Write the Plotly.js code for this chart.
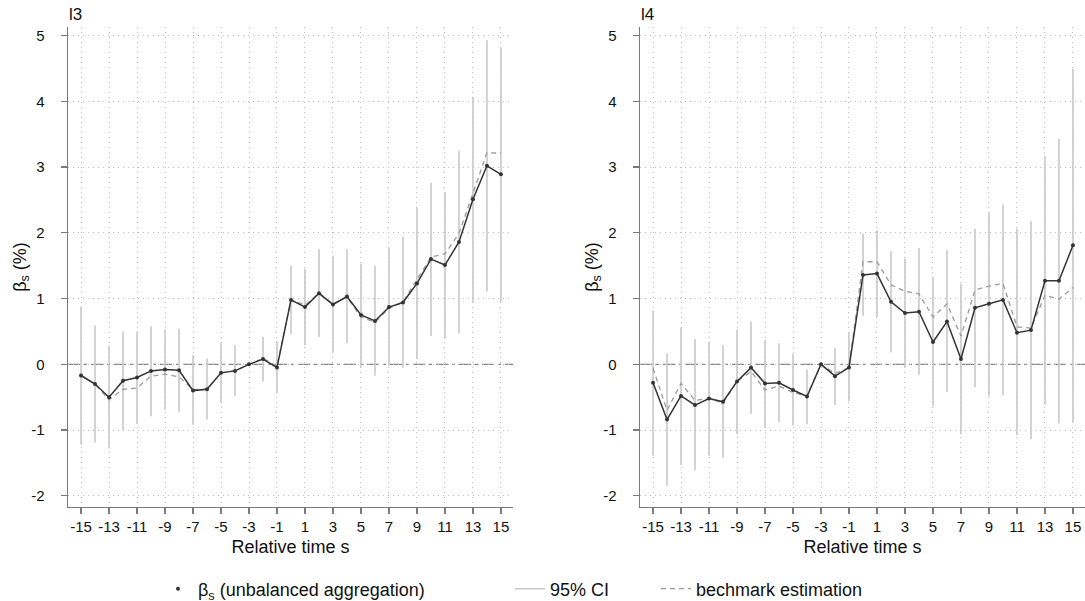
<!DOCTYPE html>
<html>
<head>
<meta charset="utf-8">
<script src="https://cdn.plot.ly/plotly-3.0.1.min.js"></script>
<style>html,body{margin:0;padding:0;background:#fff;}#chart{width:1085px;height:601px;}</style>
</head>
<body>
<div id="chart"></div>
<script>
// relative time
const relTime = [-15,-14,-13,-12,-11,-10,-9,-8,-7,-6,-5,-4,-3,-2,-1,0,1,2,3,4,5,6,7,8,9,10,11,12,13,14,15];
const xTickVals = [-15,-13,-11,-9,-7,-5,-3,-1,1,3,5,7,9,11,13,15];
const xTickText = ['-15','-13','-11','-9','-7','-5','-3','-1','1','3','5','7','9','11','13','15'];
const yTickVals = [-2,-1,0,1,2,3,4,5];
const yTickText = ['-2','-1','0','1','2','3','4','5'];

// panel l3
const l3Beta  = [-0.17,-0.30,-0.50,-0.25,-0.20,-0.10,-0.08,-0.09,-0.40,-0.38,-0.13,-0.10,0.00,0.08,-0.05,0.98,0.87,1.08,0.91,1.03,0.75,0.66,0.87,0.94,1.23,1.60,1.51,1.86,2.51,3.02,2.89];
const l3Lo    = [-1.22,-1.19,-1.28,-1.00,-0.91,-0.79,-0.69,-0.72,-0.92,-0.84,-0.59,-0.48,null,-0.26,-0.44,0.46,0.29,0.42,0.18,0.32,-0.04,-0.17,-0.02,-0.05,0.08,0.43,0.39,0.47,0.94,1.11,0.95];
const l3Hi    = [0.88,0.59,0.28,0.50,0.50,0.58,0.53,0.54,0.14,0.09,0.33,0.29,null,0.42,0.35,1.50,1.45,1.75,1.65,1.75,1.53,1.50,1.77,1.94,2.38,2.76,2.62,3.25,4.07,4.93,4.81];
const l3Bench = [-0.17,-0.30,-0.54,-0.38,-0.36,-0.18,-0.15,-0.19,-0.38,-0.38,-0.13,-0.10,0.00,0.09,-0.03,0.98,0.90,1.08,0.92,1.02,0.72,0.64,0.85,0.95,1.29,1.63,1.68,1.99,2.60,3.22,3.21];

// panel l4
const l4Beta  = [-0.28,-0.84,-0.48,-0.62,-0.52,-0.57,-0.26,-0.05,-0.29,-0.28,-0.39,-0.49,0.00,-0.18,-0.05,1.36,1.38,0.95,0.78,0.80,0.34,0.65,0.08,0.86,0.92,0.98,0.48,0.52,1.27,1.27,1.81];
const l4Lo    = [-1.39,-1.85,-1.53,-1.61,-1.39,-1.42,-1.06,-0.75,-0.96,-0.88,-0.93,-0.91,null,-0.62,-0.56,0.74,0.72,0.18,-0.05,-0.16,-0.63,-0.42,-1.06,-0.35,-0.49,-0.47,-1.08,-1.14,-0.62,-0.90,-0.88];
const l4Hi    = [0.82,0.17,0.56,0.38,0.34,0.29,0.53,0.65,0.37,0.32,0.16,-0.08,null,0.25,0.48,1.99,2.04,1.72,1.61,1.77,1.32,1.74,1.22,2.06,2.32,2.43,2.06,2.18,3.17,3.43,4.49];
const l4Bench = [-0.06,-0.70,-0.29,-0.55,-0.52,-0.59,-0.26,-0.11,-0.39,-0.33,-0.43,-0.48,0.00,-0.14,-0.05,1.56,1.56,1.21,1.11,1.07,0.72,0.92,0.43,1.13,1.19,1.23,0.57,0.55,1.05,0.99,1.17];

const panelTitles = ['l3','l4'];
const legendNames = ['β<sub>s</sub> (unbalanced aggregation)','95% CI','bechmark estimation'];

const FONT = 'Liberation Sans, Arial, sans-serif';
const MAIN = '#333333', CI = '#c8c8c8', BENCH = '#9a9a9a', AXIS = '#7a7a7a';

function ciSegments(lo, hi){
  const xs = [], ys = [];
  relTime.forEach((s,i)=>{
    if (lo[i] === null || hi[i] === null) return;
    xs.push(s, s, null); ys.push(lo[i], hi[i], null);
  });
  return {xs, ys};
}

function panelTraces(beta, lo, hi, bench, xa, ya, first){
  const ci = ciSegments(lo, hi);
  return [
    {x: ci.xs, y: ci.ys, type:'scatter', mode:'lines', line:{color:CI, width:1.6},
     name: legendNames[1], showlegend:first, legend:'legend2', xaxis:xa, yaxis:ya, hoverinfo:'skip'},
    {x: relTime, y: bench, type:'scatter', mode:'lines', line:{color:BENCH, width:1.3, dash:'5px,4px'},
     name: legendNames[2], showlegend:first, legend:'legend3', xaxis:xa, yaxis:ya},
    {x: relTime, y: beta, type:'scatter', mode:'lines', line:{color:MAIN, width:1.5},
     showlegend:false, xaxis:xa, yaxis:ya},
    {x: relTime, y: beta, type:'scatter', mode:'markers', marker:{color:MAIN, size:4},
     name: legendNames[0], showlegend:first, legend:'legend', xaxis:xa, yaxis:ya}
  ];
}

const data = [
  ...panelTraces(l3Beta, l3Lo, l3Hi, l3Bench, 'x', 'y', true),
  ...panelTraces(l4Beta, l4Lo, l4Hi, l4Bench, 'x2', 'y2', false)
];

const W = 1085, H = 601;
const GRID = {showgrid:true, gridcolor:'#bdbdbd', griddash:'1px,4px', gridwidth:1, zeroline:false, automargin:false};
function xAxis(dom){
  return Object.assign({domain: dom, range:[-15.93, 15.86], tickvals:xTickVals, ticktext:xTickText,
    ticks:'outside', ticklen:6, tickcolor:AXIS, tickwidth:1.2, showline:true, linecolor:AXIS, linewidth:1.3,
    tickfont:{family:FONT, size:15, color:'#111'},
    title:{text:'Relative time s', font:{family:FONT, size:18, color:'#111'}, standoff:6}}, GRID);
}
function yAxis(anchor){
  return Object.assign({anchor: anchor, domain:[(H-507)/H, (H-27)/H], range:[-2.17, 5.13],
    tickvals:yTickVals, ticktext:yTickText,
    ticks:'outside', ticklen:6, tickcolor:AXIS, tickwidth:1.2, showline:true, linecolor:AXIS, linewidth:1.3,
    tickfont:{family:FONT, size:15, color:'#111'}, ticklabelstandoff:13,
    title:{text:'β<sub>s</sub> (%)', font:{family:FONT, size:18, color:'#111'}, standoff:0}}, GRID);
}

const legendBase = {orientation:'h', yanchor:'middle', y:(H-589)/H, xanchor:'left',
  font:{family:FONT, size:18, color:'#111'}, bgcolor:'rgba(0,0,0,0)', itemwidth:30};

const layout = {
  width:W, height:H, margin:{l:0, r:0, t:0, b:0, autoexpand:false},
  paper_bgcolor:'#fff', plot_bgcolor:'#fff',
  font:{family:FONT, color:'#111'},
  xaxis: xAxis([68/W, 513/W]),
  yaxis: yAxis('x'),
  xaxis2: xAxis([640/W, 1]),
  yaxis2: yAxis('x2'),
  legend: Object.assign({}, legendBase, {x:158/W}),
  legend2: Object.assign({}, legendBase, {x:510/W}),
  legend3: Object.assign({}, legendBase, {x:656/W}),
  shapes: [
    {type:'line', xref:'x domain', yref:'y', x0:0, x1:1, y0:0, y1:0, layer:'below',
     line:{color:'#888', width:1.3, dash:'12px,4px,3px,4px'}},
    {type:'line', xref:'x2 domain', yref:'y2', x0:0, x1:1, y0:0, y1:0, layer:'below',
     line:{color:'#888', width:1.3, dash:'12px,4px,3px,4px'}}
  ],
  annotations: [
    {text:panelTitles[0], xref:'paper', yref:'paper', x:67/W, y:(H-15)/H, xanchor:'left', yanchor:'middle',
     showarrow:false, font:{family:FONT, size:17, color:'#111'}},
    {text:panelTitles[1], xref:'paper', yref:'paper', x:639/W, y:(H-15)/H, xanchor:'left', yanchor:'middle',
     showarrow:false, font:{family:FONT, size:17, color:'#111'}}
  ],
  showlegend:true
};

Plotly.newPlot('chart', data, layout, {displayModeBar:false, staticPlot:true});
</script>
</body>
</html>
